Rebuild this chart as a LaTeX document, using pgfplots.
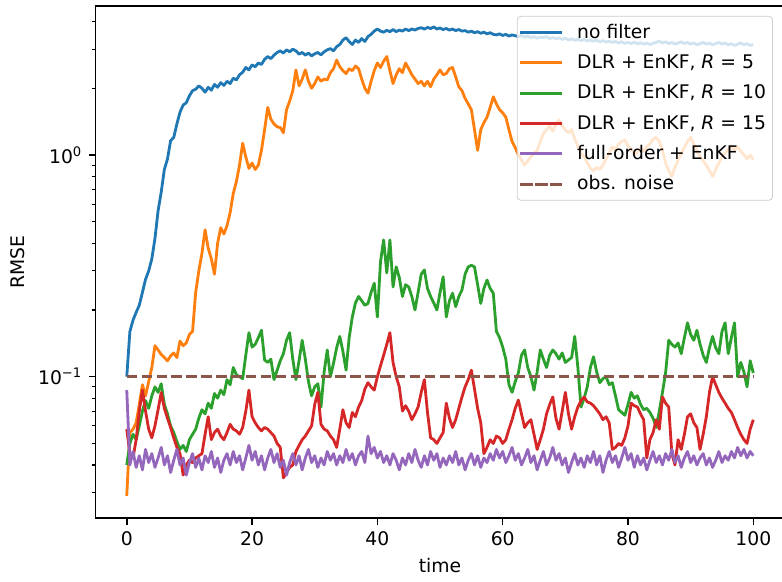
\documentclass[border=0pt]{standalone}
\usepackage{fontspec}
\setmainfont{DejaVu Sans}
\usepackage{pgfplots}
\pgfplotsset{compat=1.18}
\usepackage{pgfplotstable}
\definecolor{c0}{HTML}{1F77B4}
\definecolor{c1}{HTML}{FF7F0E}
\definecolor{c2}{HTML}{2CA02C}
\definecolor{c3}{HTML}{D62728}
\definecolor{c4}{HTML}{9467BD}
\definecolor{c5}{HTML}{8C564B}
\pgfplotstableread{
x nf r5 r10 r15 full
0 0.100 0.029 0.040 0.058 0.087
0.5 0.160 0.056 0.050 0.045 0.040
1 0.180 0.058 0.055 0.043 0.046
1.5 0.195 0.062 0.052 0.052 0.039
2 0.210 0.075 0.060 0.070 0.044
2.5 0.240 0.092 0.070 0.087 0.038
3 0.275 0.082 0.078 0.070 0.047
3.5 0.300 0.095 0.072 0.058 0.041
4 0.340 0.110 0.082 0.053 0.045
4.5 0.420 0.138 0.090 0.060 0.039
5 0.560 0.132 0.085 0.071 0.043
5.5 0.680 0.126 0.093 0.085 0.048
6 0.860 0.122 0.075 0.072 0.040
6.5 0.960 0.118 0.068 0.065 0.044
7 1.160 0.124 0.060 0.059 0.037
7.5 1.200 0.128 0.056 0.053 0.042
8 1.380 0.122 0.051 0.048 0.047
8.5 1.560 0.145 0.047 0.045 0.040
9 1.680 0.138 0.049 0.036 0.043
9.5 1.720 0.142 0.046 0.040 0.036
10 1.850 0.155 0.052 0.042 0.041
10.5 1.950 0.160 0.055 0.041 0.045
11 1.980 0.240 0.058 0.043 0.039
11.5 2.050 0.300 0.065 0.044 0.043
12 2.000 0.360 0.071 0.045 0.038
12.5 1.920 0.460 0.068 0.055 0.044
13 2.020 0.380 0.076 0.066 0.041
13.5 1.960 0.340 0.072 0.052 0.046
14 2.080 0.290 0.084 0.056 0.039
14.5 2.020 0.400 0.080 0.058 0.043
15 2.120 0.470 0.087 0.054 0.037
15.5 2.060 0.440 0.083 0.052 0.042
16 2.150 0.480 0.097 0.056 0.045
16.5 2.100 0.550 0.092 0.061 0.040
17 2.220 0.670 0.110 0.058 0.046
17.5 2.180 0.760 0.102 0.057 0.041
18 2.300 0.900 0.100 0.055 0.044
18.5 2.360 1.130 0.098 0.059 0.038
19 2.480 0.980 0.125 0.070 0.043
19.5 2.420 0.870 0.158 0.087 0.049
20 2.550 0.920 0.136 0.066 0.042
20.5 2.500 0.860 0.140 0.062 0.046
21 2.600 0.900 0.150 0.059 0.040
21.5 2.560 1.050 0.162 0.057 0.044
22 2.700 1.300 0.119 0.059 0.038
22.5 2.780 1.640 0.116 0.058 0.043
23 2.720 1.450 0.120 0.056 0.047
23.5 2.820 1.380 0.097 0.054 0.041
24 2.900 1.340 0.107 0.050 0.045
24.5 2.950 1.330 0.118 0.048 0.039
25 2.880 1.260 0.127 0.035 0.042
25.5 2.980 1.600 0.146 0.037 0.036
26 2.920 1.750 0.158 0.039 0.041
26.5 3.000 1.950 0.120 0.040 0.045
27 2.950 2.420 0.097 0.046 0.040
27.5 2.850 2.050 0.118 0.049 0.044
28 2.900 2.200 0.146 0.052 0.038
28.5 2.820 2.420 0.120 0.054 0.043
29 2.880 2.150 0.095 0.057 0.047
29.5 2.800 2.000 0.082 0.060 0.041
30 2.860 2.100 0.090 0.075 0.044
30.5 2.900 2.250 0.093 0.085 0.039
31 2.830 2.150 0.073 0.061 0.043
31.5 2.920 2.200 0.105 0.058 0.040
32 2.980 2.180 0.132 0.057 0.046
32.5 3.020 2.350 0.100 0.054 0.042
33 2.950 2.450 0.115 0.052 0.045
33.5 3.080 2.680 0.135 0.048 0.040
34 3.150 2.500 0.152 0.058 0.044
34.5 3.300 2.400 0.130 0.071 0.041
35 3.380 2.330 0.107 0.062 0.047
35.5 3.250 2.450 0.150 0.059 0.042
36 3.150 2.400 0.186 0.069 0.045
36.5 3.300 2.520 0.215 0.066 0.040
37 3.220 2.450 0.230 0.073 0.044
37.5 3.350 2.200 0.220 0.078 0.046
38 3.250 2.000 0.210 0.088 0.041
38.5 3.420 1.900 0.214 0.094 0.054
39 3.500 2.150 0.240 0.090 0.045
39.5 3.620 2.400 0.264 0.087 0.048
40 3.700 2.600 0.186 0.100 0.043
40.5 3.620 2.480 0.330 0.112 0.046
41 3.580 2.650 0.414 0.125 0.041
41.5 3.650 2.780 0.294 0.140 0.044
42 3.600 2.400 0.414 0.158 0.040
42.5 3.680 2.100 0.254 0.116 0.045
43 3.600 2.300 0.313 0.100 0.042
43.5 3.660 2.450 0.280 0.090 0.038
44 3.620 2.350 0.230 0.070 0.043
44.5 3.700 2.600 0.260 0.074 0.040
45 3.640 2.450 0.254 0.070 0.045
45.5 3.700 2.300 0.230 0.064 0.041
46 3.660 2.200 0.200 0.068 0.047
46.5 3.720 2.100 0.240 0.073 0.042
47 3.750 2.150 0.290 0.085 0.039
47.5 3.700 2.050 0.303 0.097 0.044
48 3.760 2.150 0.250 0.069 0.040
48.5 3.720 2.030 0.230 0.053 0.046
49 3.780 2.200 0.215 0.052 0.042
49.5 3.700 2.300 0.200 0.050 0.045
50 3.740 2.420 0.240 0.053 0.039
50.5 3.680 2.300 0.282 0.056 0.043
51 3.720 2.330 0.186 0.076 0.040
51.5 3.660 2.450 0.220 0.065 0.044
52 3.700 2.480 0.238 0.059 0.041
52.5 3.640 2.250 0.207 0.064 0.046
53 3.680 2.030 0.230 0.072 0.040
53.5 3.620 1.950 0.246 0.081 0.043
54 3.640 1.800 0.290 0.090 0.038
54.5 3.580 1.700 0.313 0.097 0.042
55 3.620 1.600 0.318 0.107 0.045
55.5 3.560 1.300 0.313 0.088 0.040
56 3.600 1.050 0.260 0.072 0.044
56.5 3.540 1.300 0.214 0.062 0.039
57 3.580 1.400 0.250 0.045 0.043
57.5 3.520 1.480 0.273 0.048 0.041
58 3.560 1.640 0.250 0.052 0.045
58.5 3.500 1.830 0.238 0.050 0.042
59 3.480 1.700 0.160 0.054 0.047
59.5 3.520 1.600 0.150 0.053 0.043
60 3.460 1.550 0.136 0.050 0.046
60.5 3.500 1.480 0.120 0.052 0.041
61 3.440 1.300 0.092 0.058 0.044
61.5 3.480 1.150 0.085 0.064 0.048
62 3.450 1.080 0.095 0.072 0.042
62.5 3.420 1.000 0.104 0.0785 0.045
63 3.460 0.950 0.125 0.068 0.040
63.5 3.400 0.900 0.132 0.059 0.043
64 3.440 0.940 0.110 0.062 0.047
64.5 3.380 0.980 0.100 0.064 0.041
65 3.420 1.020 0.087 0.055 0.044
65.5 3.360 1.050 0.105 0.047 0.038
66 3.400 1.150 0.132 0.052 0.042
66.5 3.380 1.250 0.120 0.058 0.046
67 3.420 1.300 0.110 0.068 0.040
67.5 3.350 1.350 0.125 0.075 0.043
68 3.390 1.280 0.132 0.081 0.048
68.5 3.340 1.380 0.127 0.065 0.042
69 3.380 1.440 0.120 0.058 0.045
69.5 3.320 1.350 0.128 0.070 0.040
70 3.360 1.300 0.116 0.085 0.043
70.5 3.300 1.260 0.119 0.068 0.037
71 3.340 1.300 0.122 0.058 0.041
71.5 3.290 1.180 0.152 0.066 0.045
72 3.330 1.100 0.110 0.073 0.040
72.5 3.280 1.020 0.073 0.078 0.043
73 3.320 0.980 0.080 0.081 0.039
73.5 3.270 0.920 0.090 0.077 0.044
74 3.300 0.870 0.110 0.076 0.041
74.5 3.260 0.850 0.123 0.074 0.046
75 3.290 0.880 0.105 0.071 0.040
75.5 3.240 0.860 0.094 0.068 0.044
76 3.280 0.900 0.098 0.064 0.037
76.5 3.230 0.960 0.100 0.066 0.042
77 3.260 1.020 0.092 0.062 0.046
77.5 3.220 1.090 0.094 0.047 0.041
78 3.250 1.050 0.082 0.048 0.044
78.5 3.200 1.120 0.071 0.050 0.039
79 3.240 1.150 0.069 0.049 0.043
79.5 3.190 1.170 0.067 0.053 0.048
80 3.220 1.100 0.075 0.060 0.042
80.5 3.180 1.060 0.085 0.076 0.045
81 3.230 1.000 0.080 0.074 0.039
81.5 3.170 1.030 0.082 0.073 0.044
82 3.210 1.080 0.075 0.068 0.040
82.5 3.160 1.040 0.071 0.064 0.043
83 3.200 1.090 0.072 0.043 0.038
83.5 3.150 1.120 0.069 0.052 0.042
84 3.190 1.180 0.065 0.056 0.046
84.5 3.220 1.200 0.059 0.064 0.041
85 3.260 1.150 0.070 0.058 0.044
85.5 3.200 1.050 0.085 0.081 0.040
86 3.240 0.920 0.104 0.076 0.045
86.5 3.180 0.850 0.146 0.073 0.042
87 3.220 0.800 0.140 0.045 0.047
87.5 3.160 0.880 0.136 0.040 0.041
88 3.200 0.950 0.142 0.052 0.044
88.5 3.240 1.020 0.127 0.047 0.039
89 3.180 1.080 0.150 0.055 0.043
89.5 3.220 1.150 0.175 0.066 0.046
90 3.160 1.200 0.155 0.068 0.041
90.5 3.200 1.120 0.146 0.062 0.044
91 3.140 1.050 0.162 0.059 0.040
91.5 3.180 0.980 0.140 0.047 0.043
92 3.220 0.940 0.125 0.055 0.045
92.5 3.160 0.900 0.116 0.066 0.040
93 3.200 0.850 0.135 0.085 0.043
93.5 3.140 0.800 0.152 0.100 0.039
94 3.180 0.860 0.135 0.092 0.042
94.5 3.220 0.920 0.127 0.085 0.046
95 3.160 0.980 0.160 0.080 0.041
95.5 3.200 1.020 0.175 0.076 0.044
96 3.140 1.060 0.127 0.072 0.042
96.5 3.180 1.100 0.150 0.069 0.046
97 3.120 1.050 0.175 0.064 0.043
97.5 3.160 1.090 0.100 0.059 0.048
98 3.200 1.040 0.116 0.055 0.044
98.5 3.140 1.000 0.105 0.052 0.047
99 3.180 0.960 0.090 0.050 0.043
99.5 3.120 1.000 0.118 0.058 0.046
100 3.150 0.950 0.104 0.064 0.044
}\data
\begin{document}
\begin{tikzpicture}
\path[use as bounding box] (0pt,0pt) rectangle (417.1pt,309.9pt);
\begin{axis}[
  at={(50.9pt,33.6pt)}, anchor=south west,
  scale only axis, width=367.6pt, height=273.1pt,
  ymode=log, xmin=-5, xmax=105, ymin=0.02305, ymax=4.699,
  xtick={0,20,40,60,80,100},
  ytick={0.1,1}, yticklabels={10\textsuperscript{−1},10\textsuperscript{0}},
  minor ytick={0.03,0.04,0.05,0.06,0.07,0.08,0.09,0.2,0.3,0.4,0.5,0.6,0.7,0.8,0.9,2,3,4},
  tick pos=left, tick align=outside,
  major tick length=3.5pt, minor tick length=2pt,
  major tick style={line width=0.8pt, black},
  minor tick style={line width=0.6pt, black},
  axis line style={line width=0.8pt},
  /pgf/number format/assume math mode=true,
  ticklabel style={font=\fontsize{10}{12}\selectfont},
  label style={font=\fontsize{10}{12}\selectfont},
  xlabel={time}, ylabel={RMSE},
  legend cell align=left,
  legend image code/.code={\draw[#1, line cap=rect] (0pt,0pt) -- (21pt,0pt);},
  legend style={at={(0.983,0.9805)}, anchor=north east, draw=black!20, fill=white,
    fill opacity=0.8, text opacity=1, rounded corners=2pt,
    font=\fontsize{10}{12}\selectfont, inner xsep=1.5pt, inner ysep=2pt,
    row sep=3.1pt, nodes={inner sep=2pt, text depth=1.5pt, text height=7.6pt},
    /tikz/every odd column/.append style={column sep=6pt}},
  every axis plot/.append style={line width=1.5pt, line join=round},
]
\addplot[c0] table[x=x,y=nf]{\data};
\addlegendentry{no filter}
\addplot[c1] table[x=x,y=r5]{\data};
\addlegendentry{DLR + EnKF, \textit{R} = 5}
\addplot[c2] table[x=x,y=r10]{\data};
\addlegendentry{DLR + EnKF, \textit{R} = 10}
\addplot[c3] table[x=x,y=r15]{\data};
\addlegendentry{DLR + EnKF, \textit{R} = 15}
\addplot[c4] table[x=x,y=full]{\data};
\addlegendentry{full-order + EnKF}
\addplot[c5, dash pattern=on 5.55pt off 2.4pt] coordinates {(0,0.1) (100,0.1)};
\addlegendentry{obs. noise}
\end{axis}
\end{tikzpicture}
\end{document}
